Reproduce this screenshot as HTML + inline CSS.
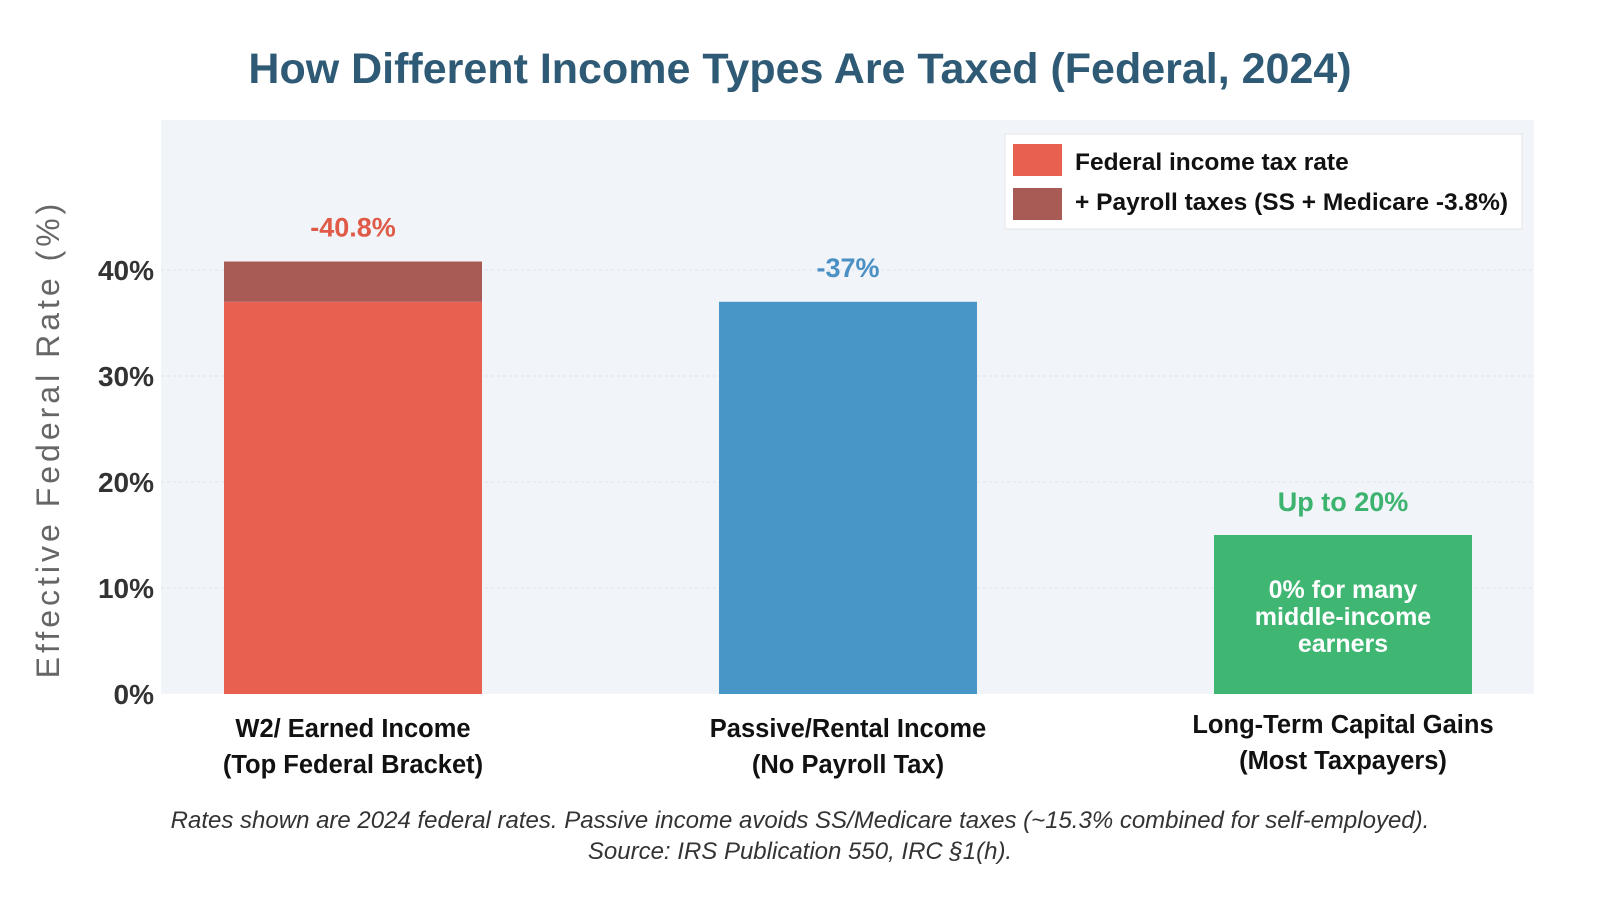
<!DOCTYPE html>
<html><head><meta charset="utf-8"><style>
body{margin:0;background:#fff;width:1600px;height:900px;overflow:hidden;font-family:"Liberation Sans",sans-serif}
</style></head><body>
<svg width="1600" height="900" id="c">
<text x="800" y="83" text-anchor="middle" font-size="43" font-weight="bold" fill="#2e5a75">How Different Income Types Are Taxed (Federal, 2024)</text>
<rect x="161" y="120" width="1373" height="574" fill="#f1f4f9"/>
<g id="grid"></g><g id="bars"></g>
<text transform="translate(59,439) rotate(-90)" text-anchor="middle" font-size="32" letter-spacing="4" fill="#666">Effective Federal Rate (%)</text>
<g>
<rect x="1005" y="134" width="517" height="95" fill="#fff" stroke="#e6e6e6"/>
<rect x="1013" y="144" width="49" height="32" fill="#e86050"/>
<text x="1075" y="170" font-size="24.5" font-weight="bold" fill="#111">Federal income tax rate</text>
<rect x="1013" y="188" width="49" height="32" fill="#a85a55"/>
<text x="1075" y="210" font-size="24.5" font-weight="bold" fill="#111">+ Payroll taxes (SS + Medicare -3.8%)</text>
</g>
<text x="800" y="828" text-anchor="middle" font-size="24" font-style="italic" fill="#333">Rates shown are 2024 federal rates. Passive income avoids SS/Medicare taxes (~15.3% combined for self-employed).</text>
<text x="800" y="859" text-anchor="middle" font-size="24" font-style="italic" fill="#333">Source: IRS Publication 550, IRC §1(h).</text>
</svg>
<script>
const categories=["W2/ Earned Income|(Top Federal Bracket)","Passive/Rental Income|(No Payroll Tax)","Long-Term Capital Gains|(Most Taxpayers)"];
const incomeRate=[37,37,15];
const payrollRate=[3.8,0,0];
const valueLabels=["-40.8%","-37%","Up to 20%"];
const yTicks=[0,10,20,30,40];
const NS="http://www.w3.org/2000/svg";
const y0=694,pxPer=10.6,x0=353,step=495,bw=258;
const y=v=>y0-v*pxPer, xc=i=>x0+i*step;
function mk(t,a,p){const e=document.createElementNS(NS,t);for(const k in a)e.setAttribute(k,a[k]);(p||document.getElementById('c')).appendChild(e);return e;}
const grid=document.getElementById('grid'),bars=document.getElementById('bars');
yTicks.forEach(v=>{
 if(v>0){const l=mk('line',{x1:161,x2:1534,y1:y(v),y2:y(v),stroke:'#dde2ea','stroke-dasharray':'3 3'},grid);
 
 }
 const t=mk('text',{x:154,y:y(v)+10,'text-anchor':'end','font-size':28,'font-weight':'bold',fill:'#333'},grid);t.textContent=v+'%';
 
 
});
const colors=['#e86050','#4896c8','#3fb672'],lblCol=['#e05a48','#4a90c4','#3cb36e'];
categories.forEach((c,i)=>{
 const r=mk('rect',{x:xc(i)-bw/2,y:y(incomeRate[i]),width:bw,height:incomeRate[i]*pxPer,fill:colors[i]},bars);
 
 
 if(payrollRate[i]>0){const p=mk('rect',{x:xc(i)-bw/2,y:y(incomeRate[i]+payrollRate[i]),width:bw,height:payrollRate[i]*pxPer,fill:'#a85a55'},bars);
 
 }
 const top=incomeRate[i]+payrollRate[i];
 const ly=i==2?y(20)+29:y(top)-25;
 const vl=mk('text',{x:xc(i),y:ly,'text-anchor':'middle','font-size':27,'font-weight':'bold',fill:lblCol[i]},bars);vl.textContent=valueLabels[i];
 
 
 const parts=c.split('|');
 parts.forEach((s,j)=>{const t=mk('text',{x:xc(i),y:(i==2?733:737)+j*36,'text-anchor':'middle','font-size':25.5,'font-weight':'bold',fill:'#111'},bars);t.textContent=s;
 
 });
});
["0% for many","middle-income","earners"].forEach((s,j)=>{const t=mk('text',{x:xc(2),y:598+j*27,'text-anchor':'middle','font-size':25,'font-weight':'bold',fill:'#fff'},bars);t.textContent=s;
 
 });
</script>
</body></html>
